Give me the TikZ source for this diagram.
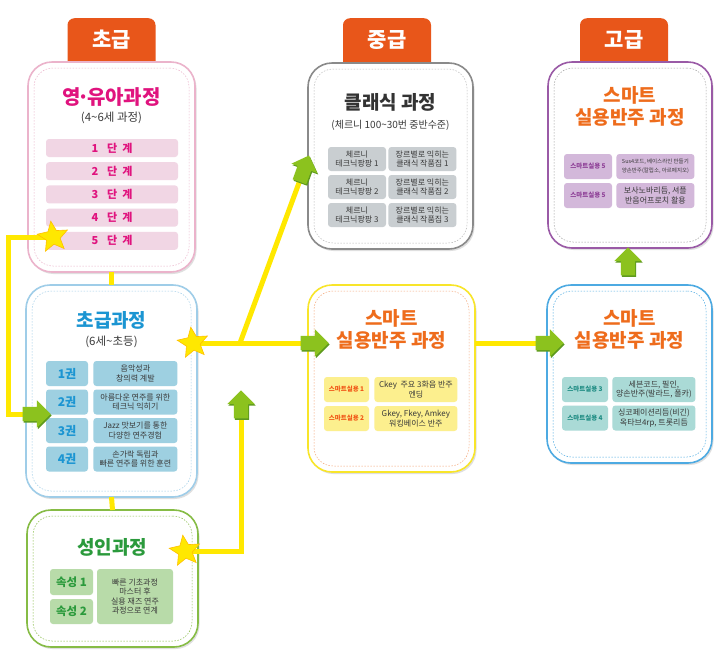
\documentclass[tikz,border=0pt]{standalone}
\usepackage{fontspec}
\setmainfont{Noto Sans CJK KR}
\usetikzlibrary{shapes,arrows,positioning,shadows,
  shapes.arrows,shapes.geometric
}

\definecolor{tabred}{HTML}{E8561A}
\definecolor{trackyellow}{HTML}{FFE800}
\definecolor{arrowgreen}{HTML}{8CC21E}
\definecolor{arrowdark}{HTML}{5E9A1E}
\definecolor{pinkline}{HTML}{EBB3CB}
\definecolor{pinktext}{HTML}{E0137E}
\definecolor{pinkcell}{HTML}{F1D6E4}
\definecolor{blueline}{HTML}{9FCDE8}
\definecolor{bluetext}{HTML}{1B95D2}
\definecolor{bluecell}{HTML}{9ED0E1}
\definecolor{greenline}{HTML}{86BC45}
\definecolor{greentext}{HTML}{2B9A3C}
\definecolor{greencell}{HTML}{B8DBA9}
\definecolor{grayline}{HTML}{8A8A8A}
\definecolor{graytext}{HTML}{333333}
\definecolor{graycell}{HTML}{C9CED1}
\definecolor{yellowline}{HTML}{F8E52A}
\definecolor{orangetext}{HTML}{EE6C1C}
\definecolor{yellowcell}{HTML}{FCEF8E}
\definecolor{purpleline}{HTML}{9A5AA6}
\definecolor{purpletext}{HTML}{8E3F97}
\definecolor{purplecell}{HTML}{D3B8DA}
\definecolor{skyline}{HTML}{4DAAE2}
\definecolor{tealtext}{HTML}{1E8C83}
\definecolor{tealcell}{HTML}{AADAD6}
\definecolor{bodytext}{HTML}{3A3A3A}

\begin{document}
\begin{tikzpicture}[
    x=1pt, y=-1pt,
    panel/.style={
        draw=#1, line width=1.6pt, fill=white,
        rounded corners=24pt, outer sep=0pt,
        drop shadow={shadow xshift=1.5pt, shadow yshift=-2pt, opacity=.25}
    },
    innerline/.style={
        draw=#1, dash pattern=on 1.5pt off 1.5pt,
        line width=.5pt, rounded corners=19pt
    },
    tab/.style={
        fill=tabred, rounded corners=7pt,
        minimum width=88, minimum height=60, anchor=north
    },
    tabtext/.style={text=white, font=\fontsize{21}{21}\selectfont\bfseries},
    title/.style={text=#1, align=center,
        font=\fontsize{19}{22}\selectfont\bfseries},
    subtitle/.style={text=bodytext, font=\fontsize{11.5}{13}\selectfont},
    cell/.style={
        fill=#1, rounded corners=3pt, inner sep=1pt,
        align=center, text=bodytext,
        font=\fontsize{8}{9.5}\selectfont
    },
    stepbar/.style={
        cell=pinkcell, minimum width=132, minimum height=18,
        text=pinktext, font=\fontsize{11}{11}\selectfont\bfseries
    },
    track/.style={draw=trackyellow, line width=5pt},
    goldstar/.style={
        star, star points=5, star point ratio=2.2, rotate=8,
        fill=trackyellow, draw=orange!50!yellow, line width=.6pt,
        minimum size=32, inner sep=0pt
    },
    goarrow/.style={
        single arrow, fill=arrowgreen,
        inner xsep=0pt, inner ysep=7pt,
        minimum height=28,
        single arrow head extend=6.5pt,
        single arrow tip angle=90,
        drop shadow={fill=arrowdark, opacity=1,
            shadow xshift=1pt, shadow yshift=-1.5pt}
    }
]
\fill[white] (0,0) rectangle (720,665);

% tabs
\node[tab] (tab1) at (111.5,18) {};
\node[tab] (tab2) at (387,18) {};
\node[tab] (tab3) at (624,18) {};
\node[tabtext] at (111.5,40) {초급};
\node[tabtext] at (387,40) {중급};
\node[tabtext] at (624,40) {고급};

% panels
\node[panel=pinkline, minimum width=167, minimum height=210] (baby) at (111.5,167) {};
\node[panel=blueline, minimum width=171, minimum height=212] (basic) at (111.5,391) {};
\node[panel=greenline, minimum width=171, minimum height=137] (adult) at (112.5,578.5) {};
\node[panel=grayline, minimum width=165, minimum height=186] (classic) at (390.5,156) {};
\node[panel=yellowline, minimum width=167, minimum height=187] (smartA) at (391.5,378.5) {};
\node[panel=purpleline, minimum width=164, minimum height=186] (smartC) at (630,155) {};
\node[panel=skyline, minimum width=165, minimum height=178] (smartB) at (629.5,374) {};

\node[innerline=pinkline, minimum width=155, minimum height=198] at (baby) {};
\node[innerline=blueline, minimum width=159, minimum height=200] at (basic) {};
\node[innerline=greenline, minimum width=159, minimum height=125] at (adult) {};
\node[innerline=grayline!60, minimum width=153, minimum height=174] at (classic) {};
\node[innerline=orangetext!60, minimum width=155, minimum height=175] at (smartA) {};
\node[innerline=grayline!80, minimum width=152, minimum height=174] at (smartC) {};
\node[innerline=skyline, minimum width=153, minimum height=166] at (smartB) {};

% 영유아
\node[title=pinktext, font=\fontsize{20}{22}\selectfont\bfseries]
      (babytitle) at (111.5,97) {영\kern-3pt·\kern-3pt유아과정};
\node[subtitle] at (111.5,118) {(4\textasciitilde 6세 과정)};
\foreach \n in {1,...,5}
  \node[stepbar] (stage\n) at (112,{148+23.2*(\n-1)}) {\n\hspace{9pt}단\hspace{5pt}계};

% 초급
\node[title=bluetext] (basictitle) at (111.5,320) {초급과정};
\node[subtitle] at (111.5,342) {(6세\textasciitilde 초등)};
\foreach \lbl/\txt [count=\i] in {
    1권/{음악성과\\창의력 계발},
    2권/{아름다운 연주를 위한\\테크닉 익히기},
    3권/{Jazz 맛보기를 통한\\다양한 연주경험},
    4권/{손가락 독립과\\빠른 연주를 위한 훈련}} {
  \node[cell=bluecell, minimum width=42, minimum height=25,
        text=bluetext, font=\fontsize{12}{12}\selectfont\bfseries]
        (book\i) at (67,{373.5+28.5*(\i-1)}) {\lbl};
  \node[cell=bluecell, minimum width=84, minimum height=25,
        right=5pt of book\i] (bookinfo\i) {\txt};
}

% 성인
\node[title=greentext] (adulttitle) at (112,547) {성인과정};
\node[cell=greencell, minimum width=43, minimum height=26, text=greentext,
      font=\fontsize{11.5}{12}\selectfont\bfseries] (attr1) at (71.5,582) {속성 1};
\node[cell=greencell, minimum width=43, minimum height=25, text=greentext,
      font=\fontsize{11.5}{12}\selectfont\bfseries] (attr2) at (71.5,611.5) {속성 2};
\node[cell=greencell, minimum width=76, minimum height=55] (attrinfo) at (135,596.5)
      {빠른 기초과정\\마스터 후\\실용 재즈 연주\\과정으로 연계};

% 중급
\node[title=graytext] (classictitle) at (390.5,102) {클래식 과정};
\node[subtitle, font=\fontsize{10}{12}\selectfont] at (390.5,125) {(체르니 100\textasciitilde 30번 중반수준)};
\foreach \n in {1,2,3} {
  \node[cell=graycell, minimum width=58, minimum height=24]
        (czerny\n) at (357,{159+28*(\n-1)}) {체르니\\테크닉팡팡 \n};
  \node[cell=graycell, minimum width=68, minimum height=24,
        right=2pt of czerny\n] (genre\n) {장르별로 익히는\\클래식 작품집 \n};
}

% 스마트 (가운데)
\node[title=orangetext] (smartAtitle) at (391.5,329) {스마트\\실용반주 과정};
\foreach \lbl/\txt [count=\i] in {
    1/{Ckey\ \ 주요 3화음 반주\\엔딩},
    2/{Gkey, Fkey, Amkey\\워킹베이스 반주}} {
  \node[cell=yellowcell, minimum width=45, minimum height=25, text=orangetext!80!red,
        font=\fontsize{6.5}{7}\selectfont\bfseries]
        (smartAkey\i) at (346.5,{389.5+29*(\i-1)}) {스마트실용 \lbl};
  \node[cell=yellowcell, minimum width=83, minimum height=25,
        right=5pt of smartAkey\i] (smartAinfo\i) {\txt};
}

% 스마트 (오른쪽 아래)
\node[title=orangetext] (smartBtitle) at (629.5,329) {스마트\\실용반주 과정};
\foreach \lbl/\txt [count=\i] in {
    3/{세븐코드, 필인,\\양손반주(발라드, 폴카)},
    4/{싱코페이션리듬(비긴)\\옥타브4rp, 트롯리듬}} {
  \node[cell=tealcell, minimum width=46, minimum height=25, text=tealtext,
        font=\fontsize{6.5}{7}\selectfont\bfseries]
        (smartBkey\i) at (585,{389.5+28.5*(\i-1)}) {스마트실용 \lbl};
  \node[cell=tealcell, minimum width=83, minimum height=25,
        right=4pt of smartBkey\i] (smartBinfo\i) {\txt};
}

% 고급
\node[title=orangetext] (smartCtitle) at (630,106.5) {스마트\\실용반주 과정};
\node[cell=purplecell, minimum width=48, minimum height=25, text=purpletext,
      font=\fontsize{6.5}{7}\selectfont\bfseries] (smartCkey1) at (588,166.5) {스마트실용 5};
\node[cell=purplecell, minimum width=78, minimum height=25,
      font=\fontsize{5.5}{9}\selectfont, right=4pt of smartCkey1] (smartCinfo1)
      {Sus4코드, 베이스라인 만들기\\양손반주(칼립소, 아르페지오)};
\node[cell=purplecell, minimum width=48, minimum height=25, text=purpletext,
      font=\fontsize{6.5}{7}\selectfont\bfseries] (smartCkey2) at (588,195.5) {스마트실용 5};
\node[cell=purplecell, minimum width=78, minimum height=25,
      right=4pt of smartCkey2] (smartCinfo2) {보사노바리듬, 셔플\\반음어프로치 활용};

% yellow tracks
\coordinate (bend1) at (8,237);
\coordinate (fork) at (240,343);
\coordinate (stop1) at (33,414);
\coordinate (stop2) at (303,172);
\coordinate (stop3) at (241,408);
\coordinate (stop4) at (311,343);
\coordinate (stop5) at (546,343);
\draw[track] (baby.south) -- (basic.north);
\draw[track] (basic.south) -- (adult.north);
\draw[track] (53,237) -- (bend1) |- (stop1);
\draw[track] (193,343) -- (stop4);
\draw[track] (fork) -- (stop2);
\draw[track] (185,551) -| (stop3);
\draw[track] (stop5 -| smartA.east) -- (stop5);

% stars and arrows
\node[goldstar] (star1) at (53,237) {};
\node[goldstar] (star2) at (193,343) {};
\node[goldstar] (star3) at (185,551) {};
\node[goarrow] (push1) at (stop1) {};
\node[goarrow, rotate=70] (push2) at (stop2) {};
\node[goarrow, rotate=90] (push3) at (stop3) {};
\node[goarrow] (push4) at (stop4) {};
\node[goarrow] (push5) at (stop5) {};
\node[goarrow, rotate=90] (push6) at (628,265) {};
\end{tikzpicture}
\end{document}
